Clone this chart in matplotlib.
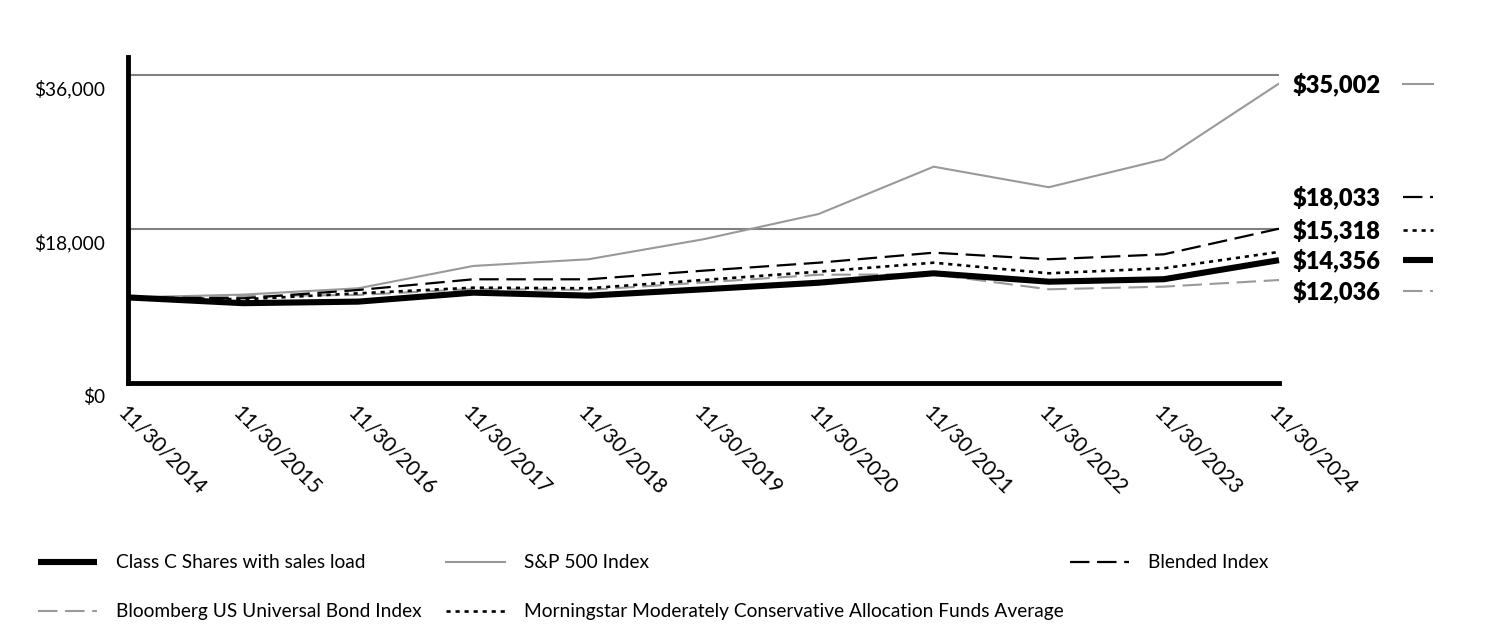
import matplotlib
matplotlib.use('Agg')
import matplotlib.pyplot as plt
from matplotlib.lines import Line2D
import numpy as np

plt.rcParams['font.family'] = ['Lato', 'DejaVu Sans']
plt.rcParams['lines.scale_dashes'] = False

# data
dates = ['11/30/2014', '11/30/2015', '11/30/2016', '11/30/2017', '11/30/2018', '11/30/2019',
         '11/30/2020', '11/30/2021', '11/30/2022', '11/30/2023', '11/30/2024']
class_c = [10000, 9330, 9510, 10560, 10210, 10950, 11720, 12820, 11840, 12130, 14356]
sp500 = [10000, 10330, 11070, 13680, 14460, 16800, 19750, 25280, 22880, 26150, 35002]
blended = [10000, 9900, 10870, 12120, 12120, 13130, 14060, 15230, 14460, 15040, 18033]
bloomberg = [10000, 10170, 10290, 10990, 10870, 11750, 12650, 12700, 10950, 11260, 12036]
morningstar = [10000, 9780, 10480, 11140, 11070, 12040, 13010, 14060, 12820, 13410, 15318]

ytick_vals = [0, 18000, 36000]
ytick_labels = ['$0', '$18,000', '$36,000']
end_labels = ['$35,002', '$18,033', '$15,318', '$14,356', '$12,036']

GRAY = '#999999'
W, H = 1512, 624

# line styles: (color, width, linestyle)
st_classc = dict(color='black', linewidth=4.4, linestyle='-', solid_capstyle='butt')
st_sp = dict(color=GRAY, linewidth=1.5, linestyle='-')
st_blend = dict(color='black', linewidth=1.6, linestyle=(0, (14, 5.5)))
st_bond = dict(color=GRAY, linewidth=1.5, linestyle=(0, (14, 5.5)))
st_morn = dict(color='black', linewidth=1.9, linestyle=(0, (3, 3.5)))

fig = plt.figure(figsize=(W / 100, H / 100), dpi=100)
ax = fig.add_axes([128 / W, 1 - 383 / H, (1279 - 128) / W, (383 - 57) / H])

x = np.arange(len(dates))

for yv in ytick_vals[1:]:
    ax.axhline(yv, color='#808080', linewidth=1.5, zorder=1)

ax.plot(x, sp500, zorder=3, **st_sp)
ax.plot(x, bloomberg, zorder=3, **st_bond)
ax.plot(x, blended, zorder=4, **st_blend)
ax.plot(x, morningstar, zorder=4, **st_morn)
ax.plot(x, class_c, zorder=5, clip_on=False, **st_classc)

ax.set_xlim(0, len(dates) - 1)
ax.set_ylim(0, 38100)

for s in ['top', 'right']:
    ax.spines[s].set_visible(False)
ax.spines['left'].set_linewidth(3.5)
ax.spines['bottom'].set_linewidth(3.5)
ax.spines['left'].set_zorder(6)
ax.spines['bottom'].set_zorder(6)

ax.set_yticks([])
for yv, lab in zip(ytick_vals, ytick_labels):
    fy = 1 - (383 - yv / 38100 * 326 + 14) / H
    fig.text(105 / W, fy, lab, ha='right', va='center', fontsize=13.8)

ax.set_xticks(x)
ax.set_xticklabels(dates, rotation=-45, ha='left', va='top', rotation_mode='anchor', fontsize=15)
ax.tick_params(axis='x', length=0, pad=14)

# end value labels with small line keys
end_y = [84, 197, 230, 260, 291]
end_styles = [st_sp, st_blend, st_morn, st_classc, st_bond]
for lab, py, st in zip(end_labels, end_y, end_styles):
    fy = 1 - py / H
    fig.text(1293 / W, fy, lab, ha='left', va='center', fontsize=17, fontweight='heavy')
    fig.add_artist(Line2D([1403 / W, 1433 / W], [fy, fy], transform=fig.transFigure, **st))

# legend at the bottom
leg_items = [('Class C Shares with sales load', st_classc, 38, 562),
             ('S&P 500 Index', st_sp, 446, 562),
             ('Blended Index', st_blend, 1070, 562),
             ('Bloomberg US Universal Bond Index', st_bond, 38, 611),
             ('Morningstar Moderately Conservative Allocation Funds Average', st_morn, 446, 611)]
for name, st, px, py in leg_items:
    fy = 1 - py / H
    fig.add_artist(Line2D([px / W, (px + 59) / W], [fy, fy], transform=fig.transFigure, **st))
    fig.text((px + 78) / W, fy, name, ha='left', va='center', fontsize=13.8)

fig.savefig('out.png', dpi=100)
